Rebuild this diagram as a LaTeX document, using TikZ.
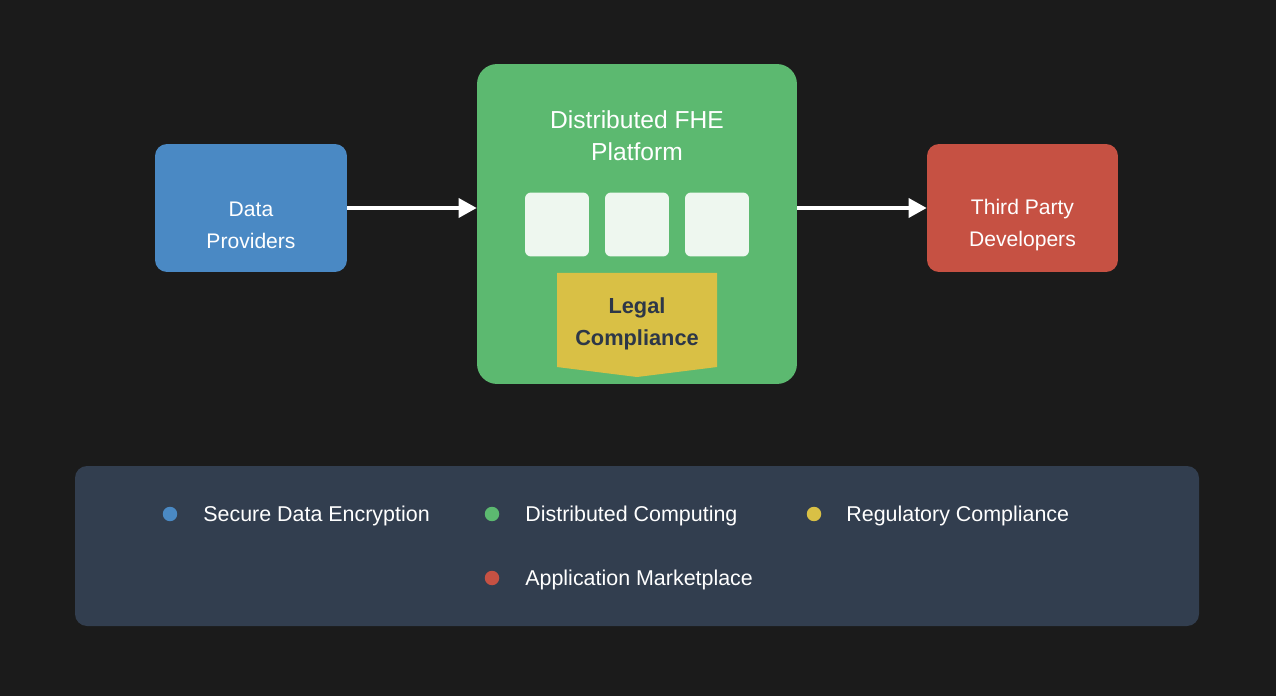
\documentclass[tikz,border=0pt]{standalone}
\usepackage{fontspec}
\setmainfont{Liberation Sans}
\usetikzlibrary{arrows.meta,positioning}

\definecolor{bgdark}{HTML}{1B1B1B}
\definecolor{provblue}{HTML}{4A89C4}
\definecolor{fhegreen}{HTML}{5CB970}
\definecolor{devred}{HTML}{C65143}
\definecolor{lawyellow}{HTML}{D9C045}
\definecolor{panelgray}{HTML}{323E4F}
\definecolor{slotwhite}{HTML}{EEF7EF}
\definecolor{inkdark}{HTML}{2D3748}

\tikzset{
	actor/.style={rounded corners=0.24cm, minimum width=3.84cm, minimum height=2.56cm},
	actortext/.style={text=white, align=center, font=\fontsize{12}{18.2}\selectfont},
	slot/.style={fill=slotwhite, rounded corners=0.12cm, minimum size=1.28cm, inner sep=0pt},
	flow/.style={white, line width=2pt, -{Triangle[length=0.36cm,width=0.38cm]}},
	legdot/.style={circle, inner sep=0pt, minimum size=0.29cm},
	legtext/.style={right, text=white, inner sep=0pt, font=\fontsize{12.2}{14}\selectfont}
}

\begin{document}
\begin{tikzpicture}[x=0.02cm, y=-0.02cm]
	\fill[bgdark] (0,0) rectangle (1276,696);
	\useasboundingbox (0,0) rectangle (1276,696);

	% actors
	\node[actor, fill=provblue] (providers) at (251,208) {};
	\node[actortext] (providerstext) at (251,225) {Data\\Providers};
	\node[actor, fill=devred, minimum width=3.82cm] (developers) at (1022.5,208) {};
	\node[actortext] (developerstext) at (1022.5,225) {Third Party\\Developers};

	% platform
	\node[fill=fhegreen, rounded corners=0.4cm, minimum size=6.4cm] (platform) at (637,224) {};
	\node[text=white, align=center, font=\fontsize{14}{18}\selectfont] (title) at (637,136) {Distributed FHE\\Platform};
	\foreach \i/\x in {1/557, 2/637, 3/717}
		\node[slot] (slot\i) at (\x,224.5) {};

	\fill[lawyellow] (557,273) -- (717,273) -- (717,367) -- (637,377) -- (557,367) -- cycle;
	\node[text=inkdark, align=center, font=\bfseries\fontsize{12.4}{18}\selectfont] (legal) at (637,324) {Legal\\Compliance};

	\draw[flow] (providers.east) -- (providers.east -| platform.west);
	\draw[flow] (platform.east |- developers.west) -- (developers.west);

	% legend
	\fill[panelgray, rounded corners=0.24cm] (75,466) rectangle (1199,626);
	\node[legdot, fill=provblue] (dot1) at (170,514) {};
	\node[legtext] (leg1) at (203,516) {Secure Data Encryption};
	\node[legdot, fill=fhegreen] (dot2) at (492,514) {};
	\node[legtext] (leg2) at (525,516) {Distributed Computing};
	\node[legdot, fill=lawyellow] (dot3) at (814,514) {};
	\node[legtext] (leg3) at (846,516) {Regulatory Compliance};
	\node[legdot, fill=devred] (dot4) at (492,578) {};
	\node[legtext] (leg4) at (525,580) {Application Marketplace};
\end{tikzpicture}
\end{document}
